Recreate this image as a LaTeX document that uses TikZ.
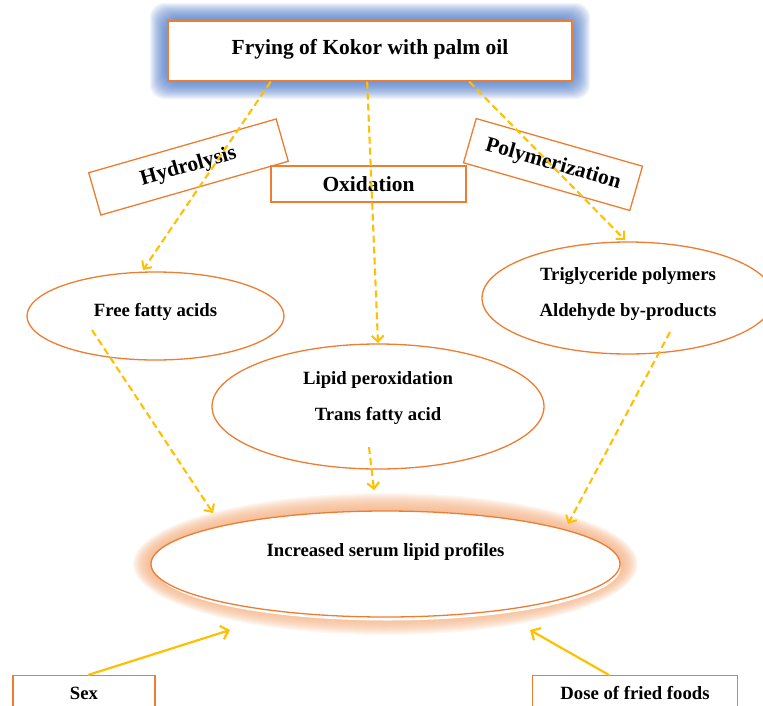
\documentclass[tikz,border=0pt]{standalone}
\usepackage{fontspec}
\setmainfont{Liberation Serif}
\usetikzlibrary{arrows.meta,shapes.geometric,calc}
\definecolor{orng}{HTML}{ED7D31}
\definecolor{gold}{HTML}{FFC000}
\definecolor{glowblue}{HTML}{4472C4}
\definecolor{gloworange}{HTML}{F4B183}
\begin{document}
\begin{tikzpicture}[x=1pt,y=-1pt,
  bigfont/.style={font=\bfseries\fontsize{21.5}{24}\selectfont},
  smallfont/.style={font=\bfseries\fontsize{18.7}{36}\selectfont},
  boxnode/.style={draw=orng, line width=1.3pt, fill=white, inner sep=0pt},
  ellnode/.style={ellipse, draw=orng, line width=1.3pt, fill=white, inner sep=0pt},
  txtnode/.style={smallfont, align=center, inner sep=0pt},
  darr/.style={gold, line width=2.1pt, dash pattern=on 7pt off 4pt, -{Straight Barb[length=6pt,width=12pt,line width=2pt]}},
  sarr/.style={gold, line width=2.2pt, -{Straight Barb[length=7pt,width=14pt,line width=2.2pt]}}
]
\useasboundingbox (0,0) rectangle (763,705);
\clip (0,0) rectangle (763,705);

% blue glow behind the title box
\foreach \i in {1,...,18}
  \fill[glowblue, opacity=0.075, rounded corners=14pt] ({168-\i},{21-\i}) rectangle ({572+\i},{81+\i});

% orange glow behind the result ellipse
\foreach \i in {1,...,18}
  \fill[gloworange, opacity=0.09] (385.5,564) ellipse [x radius={234.5+\i}, y radius={53+\i}];
\fill[white] (387.5,567.5) ellipse [x radius=233, y radius=53];

% title
\node[boxnode, bigfont, minimum width=404pt, minimum height=60pt, text height=15pt, text depth=8pt] (top) at (370,51) {Frying of Kokor with palm oil};

% process boxes
\node[boxnode, bigfont, minimum width=195pt, minimum height=44pt, rotate=16] (hyd) at (188.5,167) {Hydrolysis};
\node[boxnode, bigfont, minimum width=195pt, minimum height=36pt] (oxi) at (368.5,184) {Oxidation};
\node[boxnode, bigfont, minimum width=173pt, minimum height=46pt, rotate=-16] (pol) at (553,164.5) {Polymerization};

% product ellipses
\node[ellnode, minimum width=257pt, minimum height=88pt] (ffa) at (155.5,316) {};
\node[txtnode] at ([yshift=4pt]ffa.center) {Free fatty acids};

\node[ellnode, minimum width=292pt, minimum height=112pt] (tri) at (628,298) {};
\node[txtnode] at ([yshift=3.5pt]tri.center) {Triglyceride polymers\\Aldehyde by-products};

\node[ellnode, minimum width=332pt, minimum height=125pt] (lip) at (378,406.5) {};
\node[txtnode] at ([yshift=8.5pt]lip.center) {Lipid peroxidation\\Trans fatty acid};

% result
\node[ellnode, minimum width=469pt, minimum height=106pt] (inc) at (385.5,564) {};
\node[txtnode] at ([yshift=12pt]inc.center) {Increased serum lipid profiles};

% factors
\node[boxnode, smallfont, minimum width=142pt, minimum height=38pt, anchor=north] (sex) at (84,675) {};
\node[txtnode] at ([yshift=-18pt]sex.north) {Sex};
\node[boxnode, smallfont, minimum width=205pt, minimum height=38pt, anchor=north] (dose) at (635,675) {};
\node[txtnode] at ([yshift=-18pt]dose.north) {Dose of fried foods};

% coordinates for free ends
\coordinate (t1) at (143,270);
\coordinate (t2) at (378,343);
\coordinate (t3) at (625,240);
\coordinate (s4) at (92,330);
\coordinate (t4) at (213,513);
\coordinate (s5) at (369,447);
\coordinate (t5) at (374,490);
\coordinate (s6) at (670,332);
\coordinate (t6) at (568,524);
\coordinate (t7) at (230,630);
\coordinate (t8) at (530,630);

% dashed arrows
\draw[darr] ($(top.south west)!0.255!(top.south east)$) -- (t1);
\draw[darr] ($(top.south west)!0.493!(top.south east)$) -- (t2);
\draw[darr] ($(top.south west)!0.745!(top.south east)$) -- (t3);
\draw[darr] (s4) -- (t4);
\draw[darr] (s5) -- (t5);
\draw[darr] (s6) -- (t6);

% solid arrows
\draw[sarr] ([xshift=4pt]sex.north) -- (t7);
\draw[sarr] ([xshift=-26pt]dose.north) -- (t8);
\end{tikzpicture}
\end{document}
